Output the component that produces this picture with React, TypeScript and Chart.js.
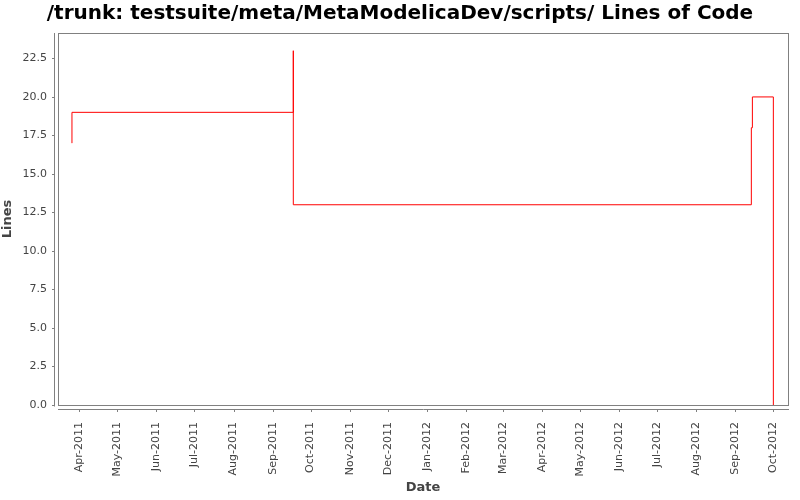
import React, { useEffect, useRef } from 'react';
import { Chart, registerables } from 'chart.js';

Chart.register(...registerables);

const TITLE = '/trunk: testsuite/meta/MetaModelicaDev/scripts/ Lines of Code';
const X_TITLE = 'Date';
const Y_TITLE = 'Lines';

// Revision dates and line counts (step chart)
const pointDates = [
  '2011-03-26T04:00',
  '2011-03-26T05:00',
  '2011-09-17T07:00',
  '2011-09-17T07:00',
  '2012-09-13T14:00',
  '2012-09-14T10:00',
  '2012-10-01T00:00',
];
const lineCounts = [17, 19, 23, 13, 18, 20, 0];

const tickDates = [
  '2011-04-01', '2011-05-01', '2011-06-01', '2011-07-01', '2011-08-01', '2011-09-01',
  '2011-10-01', '2011-11-01', '2011-12-01', '2012-01-01', '2012-02-01', '2012-03-01',
  '2012-04-01', '2012-05-01', '2012-06-01', '2012-07-01', '2012-08-01', '2012-09-01',
  '2012-10-01',
];
const tickLabels = [
  'Apr-2011', 'May-2011', 'Jun-2011', 'Jul-2011', 'Aug-2011', 'Sep-2011',
  'Oct-2011', 'Nov-2011', 'Dec-2011', 'Jan-2012', 'Feb-2012', 'Mar-2012',
  'Apr-2012', 'May-2012', 'Jun-2012', 'Jul-2012', 'Aug-2012', 'Sep-2012',
  'Oct-2012',
];
const yTicks = [0, 2.5, 5, 7.5, 10, 12.5, 15, 17.5, 20, 22.5];
const X_MIN = '2011-03-15T04:00';
const X_MAX = '2012-10-12T14:00';
const Y_MIN = 0;
const Y_MAX = 24.15;

const FONT = 'DejaVu Sans';
const GRAY = '#808080';
const TEXT = '#444444';

function toDay(s: string): number {
  const iso = s.includes('T') ? s + 'Z' : s + 'T00:00Z';
  return Date.parse(iso) / 86400000;
}

const framePlugin = {
  id: 'frame',
  afterDraw(chart: any) {
    const { ctx, chartArea: a, scales } = chart;
    ctx.save();
    ctx.strokeStyle = GRAY;
    ctx.lineWidth = 1;
    // plot outline
    ctx.strokeRect(a.left + 0.5, a.top + 0.5, a.right - a.left, a.bottom - a.top);
    // y axis line (offset)
    const yx = a.left - 3.5;
    ctx.beginPath();
    ctx.moveTo(yx, a.top);
    ctx.lineTo(yx, a.bottom + 1.5);
    const ys = scales.y;
    ys.ticks.forEach((t: any) => {
      const py = Math.round(ys.getPixelForValue(t.value)) + 0.5;
      ctx.moveTo(yx - 2.5, py);
      ctx.lineTo(yx, py);
    });
    // x axis line (offset)
    const xy = a.bottom + 4.5;
    ctx.moveTo(a.left, xy);
    ctx.lineTo(a.right + 1, xy);
    const xs = scales.x;
    xs.ticks.forEach((t: any) => {
      const px = Math.round(xs.getPixelForValue(t.value)) + 0.5;
      ctx.moveTo(px, xy);
      ctx.lineTo(px, xy + 2.5);
    });
    ctx.stroke();
    ctx.restore();
  },
};

export default function App() {
  const ref = useRef<HTMLCanvasElement | null>(null);

  useEffect(() => {
    if (!ref.current) return;
    const data = pointDates.map((d, i) => ({ x: toDay(d), y: lineCounts[i] }));
    const chart = new Chart(ref.current, {
      type: 'line',
      data: {
        datasets: [
          {
            data,
            borderColor: '#ff0000',
            borderWidth: 1,
            pointRadius: 0,
            stepped: 'before',
            fill: false,
            xAxisID: 'x',
            yAxisID: 'y',
          },
        ],
      },
      options: {
        animation: false,
        responsive: false,
        devicePixelRatio: 1,
        layout: { padding: { left: 0, right: 0, top: 0, bottom: 5 } },
        plugins: {
          legend: { display: false },
          tooltip: { enabled: false },
          title: {
            display: true,
            text: TITLE,
            color: '#000000',
            font: { family: FONT, size: 20, weight: 'bold' },
            padding: { top: 2, bottom: 7 },
          },
        },
        scales: {
          x: {
            type: 'linear',
            min: toDay(X_MIN),
            max: toDay(X_MAX),
            grid: { display: false, drawTicks: false },
            border: { display: false },
            afterBuildTicks: (scale: any) => {
              scale.ticks = tickDates.map((d) => ({ value: toDay(d) }));
            },
            afterFit: (scale: any) => {
              scale.height = 90;
              scale.paddingLeft = 0;
              scale.paddingRight = 0;
            },
            ticks: {
              autoSkip: false,
              minRotation: 90,
              maxRotation: 90,
              padding: 17,
              color: TEXT,
              font: { family: FONT, size: 11 },
              callback: (_v: any, i: number) => tickLabels[i],
            },
            title: {
              display: true,
              text: X_TITLE,
              color: TEXT,
              font: { family: FONT, size: 13, weight: 'bold' },
              padding: { top: 0, bottom: 0 },
            },
          },
          y: {
            type: 'linear',
            position: 'left',
            min: Y_MIN,
            max: Y_MAX,
            grid: { display: false, drawTicks: false },
            border: { display: false },
            afterBuildTicks: (scale: any) => {
              scale.ticks = yTicks.map((v) => ({ value: v }));
            },
            afterFit: (scale: any) => {
              scale.width = 58;
              scale.paddingTop = 0;
              scale.paddingBottom = 0;
            },
            ticks: {
              padding: 11,
              color: TEXT,
              font: { family: FONT, size: 11 },
              callback: (v: any) => Number(v).toFixed(1),
            },
            title: {
              display: true,
              text: Y_TITLE,
              color: TEXT,
              font: { family: FONT, size: 13, weight: 'bold' },
              padding: { top: 0, bottom: 0 },
            },
          },
          yRight: {
            type: 'linear',
            position: 'right',
            display: true,
            grid: { display: false, drawTicks: false },
            border: { display: false },
            ticks: { display: false },
            afterFit: (scale: any) => {
              scale.width = 12;
              scale.paddingTop = 0;
              scale.paddingBottom = 0;
            },
          },
        },
      },
      plugins: [framePlugin],
    } as any);
    return () => chart.destroy();
  }, []);

  return (
    <div style={{ position: 'absolute', left: 0, top: 0, width: 800, height: 500, background: '#ffffff' }}>
      <canvas ref={ref} width={800} height={500} style={{ width: 800, height: 500, display: 'block' }} />
    </div>
  );
}
